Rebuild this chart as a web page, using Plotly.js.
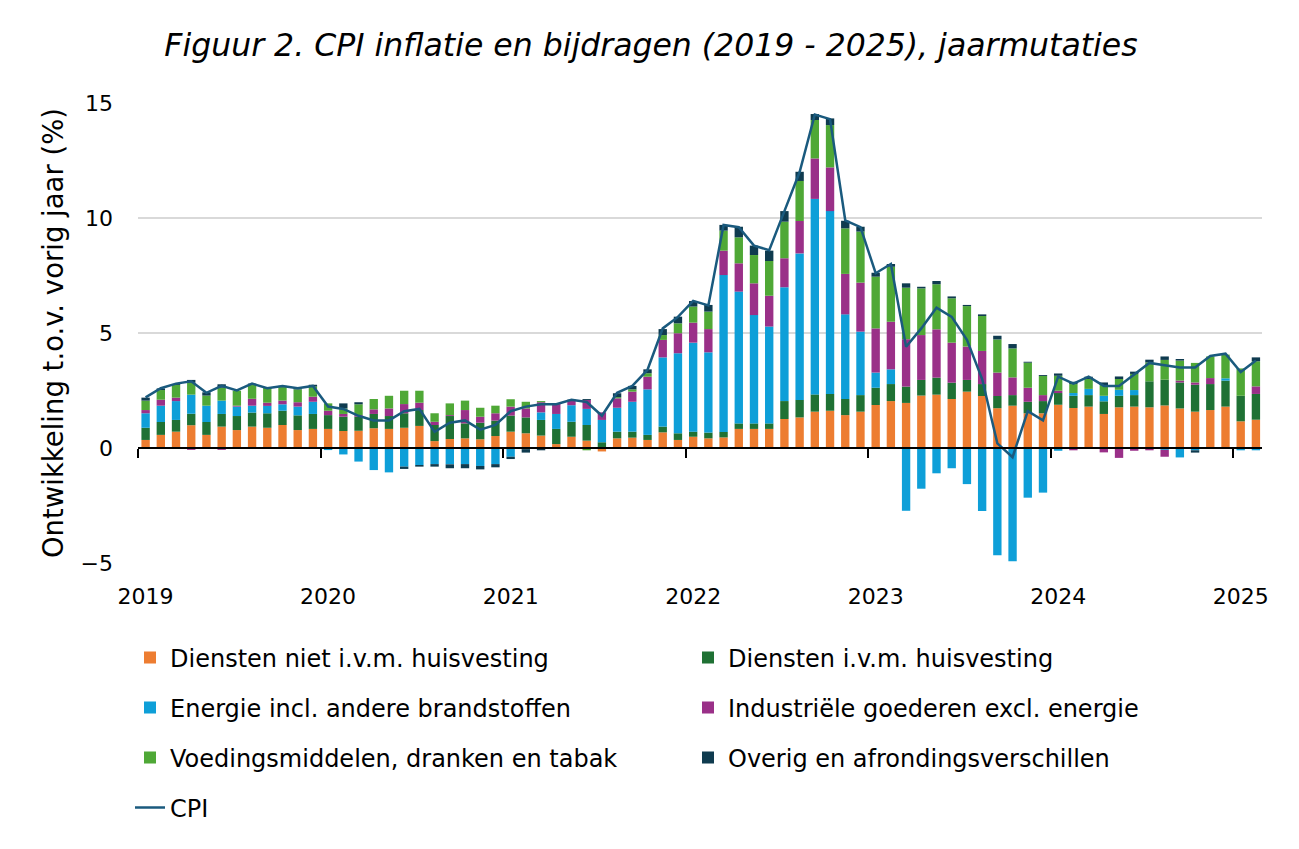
<!DOCTYPE html>
<html>
<head>
<meta charset="utf-8">
<script src="https://cdn.plot.ly/plotly-3.0.1.min.js"></script>
<style>html,body{margin:0;padding:0;background:#fff;}#chart{width:1299px;height:849px;}</style>
</head>
<body>
<div id="chart"></div>
<script>
// Months Jan 2019 .. Feb 2025 (index 0..73)
const yearLabels = ["2019","2020","2021","2022","2023","2024","2025"];

const dienstenNiet = [
  0.35,0.57,0.71,0.99,0.57,0.93,0.78,0.93,0.88,1.00,0.78,0.83,
  0.83,0.74,0.75,0.86,0.83,0.88,0.96,0.30,0.39,0.42,0.38,0.52,
  0.71,0.64,0.54,0.17,0.49,0.32,-0.15,0.42,0.45,0.35,0.68,0.35,
  0.49,0.42,0.46,0.83,0.83,0.83,1.26,1.33,1.58,1.62,1.43,1.58,
  1.87,2.04,1.96,2.28,2.32,2.13,2.45,2.26,1.73,1.84,1.51,1.51,
  1.88,1.74,1.80,1.48,1.77,1.80,1.77,1.85,1.72,1.58,1.65,1.80,
  1.16,1.23
];
const dienstenHuis = [
  0.53,0.56,0.51,0.50,0.56,0.55,0.61,0.61,0.63,0.62,0.64,0.65,
  0.60,0.62,0.61,0.62,0.56,0.63,0.69,0.70,1.00,0.65,0.72,0.67,
  0.70,0.69,0.68,0.66,0.65,0.68,0.25,0.29,0.26,0.22,0.25,0.29,
  0.22,0.25,0.24,0.24,0.24,0.24,0.78,0.76,0.75,0.73,0.70,0.72,
  0.75,0.74,0.71,0.68,0.74,0.71,0.51,0.52,0.53,0.46,0.50,0.53,
  0.51,0.53,0.50,0.55,0.50,0.50,1.13,1.12,1.13,1.17,1.13,1.13,
  1.11,1.12
];
const energie = [
  0.63,0.71,0.82,0.83,0.71,0.58,0.41,0.30,0.32,0.28,0.38,0.53,
  -0.09,-0.28,-0.59,-0.96,-1.06,-0.81,-0.74,-0.70,-0.71,-0.70,-0.78,-0.70,
  -0.38,-0.05,0.33,0.65,0.72,0.70,0.97,1.04,1.30,1.98,3.01,3.48,
  3.87,3.49,6.82,5.73,4.71,4.21,4.95,6.37,8.50,7.95,3.68,2.76,
  0.66,0.64,-2.73,-1.77,-1.10,-0.88,-1.57,-2.74,-4.66,-4.92,-2.16,-1.94,
  -0.12,0.12,0.27,0.24,0.26,0.22,0.00,-0.08,-0.41,-0.10,0.00,0.10,
  -0.10,-0.10
];
const industrie = [
  0.14,0.26,0.15,-0.08,0.00,-0.08,0.04,0.30,0.14,0.16,0.19,0.22,
  0.19,0.12,0.07,0.20,0.33,0.40,0.32,0.14,0.04,0.58,0.26,0.32,
  0.39,0.39,0.44,0.46,0.20,0.39,0.33,0.41,0.44,0.55,0.76,0.87,
  0.87,1.01,1.06,1.23,1.38,1.34,1.26,1.41,1.76,1.90,1.76,2.13,
  1.92,2.07,2.06,1.95,2.10,1.74,1.45,1.44,1.02,0.77,0.61,0.26,
  0.10,-0.10,0.00,-0.19,-0.43,-0.12,-0.10,-0.30,0.08,0.10,0.26,0.00,
  0.00,0.33
];
const voeding = [
  0.41,0.42,0.55,0.52,0.44,0.56,0.65,0.64,0.64,0.61,0.56,0.44,
  0.32,0.24,0.47,0.45,0.55,0.58,0.52,0.37,0.51,0.41,0.39,0.33,
  0.32,0.29,0.05,0.00,0.00,-0.10,0.00,0.05,0.10,0.15,0.21,0.43,
  0.70,0.76,0.87,1.13,1.23,1.51,1.59,1.74,1.67,1.84,1.98,2.22,
  2.25,2.39,2.24,2.03,1.96,1.93,1.76,1.52,1.44,1.26,1.09,0.83,
  0.65,0.39,0.43,0.47,0.47,0.70,0.82,0.86,0.87,0.85,0.94,1.03,
  1.19,1.09
];
const overig = [
  0.13,0.07,0.04,0.12,0.14,0.15,0.00,0.02,0.00,0.03,0.05,0.08,
  0.00,0.22,0.09,0.00,0.00,-0.10,-0.07,-0.11,-0.17,-0.18,-0.15,-0.14,
  -0.10,-0.15,-0.10,0.00,0.04,0.04,0.00,0.17,0.15,0.17,0.26,0.29,
  0.24,0.29,0.25,0.46,0.41,0.45,0.46,0.40,0.26,0.29,0.33,0.21,
  0.17,0.12,0.19,0.07,0.14,0.08,0.05,0.07,0.16,0.19,0.04,0.04,
  0.10,0.10,0.10,0.11,0.11,0.10,0.12,0.15,0.07,-0.10,0.00,0.00,
  0.00,0.17
];
const cpi = [
  2.2,2.6,2.8,2.9,2.4,2.7,2.5,2.8,2.6,2.7,2.6,2.7,
  1.8,1.7,1.4,1.2,1.2,1.6,1.7,0.7,1.1,1.2,0.8,1.0,
  1.6,1.8,1.9,1.9,2.1,2.0,1.4,2.4,2.7,3.4,5.2,5.7,
  6.4,6.2,9.7,9.6,8.8,8.6,10.3,12.0,14.5,14.3,9.9,9.6,
  7.6,8.0,4.4,5.2,6.1,5.7,4.7,3.0,0.2,-0.4,1.6,1.2,
  3.1,2.8,3.1,2.7,2.7,3.2,3.7,3.6,3.5,3.5,4.0,4.1,
  3.3,3.8
];

const n = cpi.length;
const idx = Array.from({length: n}, (_, i) => i);
const labelPos = yearLabels.map((_, k) => k * 12);
const tickPos = yearLabels.map((_, k) => k * 12 - 0.5);

const FONT = "DejaVu Sans, Verdana, sans-serif";
const xr = [-0.5, 73.4];

function barTrace(name, y, color, legend) {
  return {type: "bar", name: name, x: idx, y: y, marker: {color: color, line: {width: 0}},
          legend: legend, hovertemplate: name + ": %{y}<extra></extra>"};
}

const traces = [
  barTrace("Diensten niet i.v.m. huisvesting", dienstenNiet, "#ED7D31", "legend"),
  barTrace("Diensten i.v.m. huisvesting", dienstenHuis, "#1F7134", "legend2"),
  barTrace("Energie incl. andere brandstoffen", energie, "#0E9FD8", "legend3"),
  barTrace("Industriële goederen excl. energie", industrie, "#9A3088", "legend4"),
  barTrace("Voedingsmiddelen, dranken en tabak", voeding, "#4FA836", "legend5"),
  barTrace("Overig en afrondingsverschillen", overig, "#0F3B4F", "legend6"),
  {type: "scatter", mode: "lines", name: "CPI", x: idx, y: cpi,
   line: {color: "#1A5A7E", width: 2.5}, legend: "legend7"},
  {type: "scatter", mode: "markers", x: [0], y: [null], xaxis: "x2", showlegend: false,
   hoverinfo: "skip", marker: {opacity: 0}}
];

function legendAt(xPix, yPix) {
  return {orientation: "h", xref: "container", yref: "container",
          x: xPix / 1299, y: 1 - yPix / 849, xanchor: "left", yanchor: "middle",
          traceorder: "normal",
          font: {family: FONT, size: 24, color: "#000"}, bgcolor: "rgba(0,0,0,0)"};
}

const layout = {
  width: 1299, height: 849,
  margin: {l: 138, r: 37, t: 103, b: 286},
  paper_bgcolor: "#fff", plot_bgcolor: "#fff",
  barmode: "relative", bargap: 0.45,
  font: {family: FONT, color: "#000"},
  title: {text: "Figuur 2. CPI inflatie en bijdragen (2019 - 2025), jaarmutaties",
          font: {family: FONT, size: 31.5, style: "italic", color: "#000"},
          xref: "container", yref: "container", x: 651 / 1299, xanchor: "center",
          y: 1 - 45 / 849, yanchor: "middle"},
  xaxis: {range: xr, tickmode: "array", tickvals: labelPos, ticktext: yearLabels,
          ticks: "", showline: false, showgrid: false, zeroline: false,
          tickfont: {family: FONT, size: 22, color: "#000"}, ticklabelstandoff: 18},
  xaxis2: {range: xr, overlaying: "x", anchor: "free", position: 0.25,
           tickmode: "array", tickvals: tickPos, ticks: "outside", ticklen: 9,
           tickwidth: 2, tickcolor: "#000", showline: true, linecolor: "#000", linewidth: 2,
           showticklabels: false, showgrid: false, zeroline: false},
  yaxis: {range: [-5, 15], tickmode: "array", tickvals: [-5, 0, 5, 10, 15],
          ticks: "", showline: false, showgrid: true, gridcolor: "#D9D9D9", gridwidth: 2,
          zeroline: false, ticklabelstandoff: 24,
          tickfont: {family: FONT, size: 22, color: "#000"},
          title: {text: "Ontwikkeling t.o.v. vorig jaar (%)", standoff: 8,
                  font: {family: FONT, size: 27.5, color: "#000"}}},
  legend: legendAt(130, 658),
  legend2: legendAt(688, 658),
  legend3: legendAt(130, 708),
  legend4: legendAt(688, 708),
  legend5: legendAt(130, 758),
  legend6: legendAt(688, 758),
  legend7: legendAt(130, 808),
  showlegend: true
};

Plotly.newPlot("chart", traces, layout, {displayModeBar: false, staticPlot: true});
</script>
</body>
</html>
